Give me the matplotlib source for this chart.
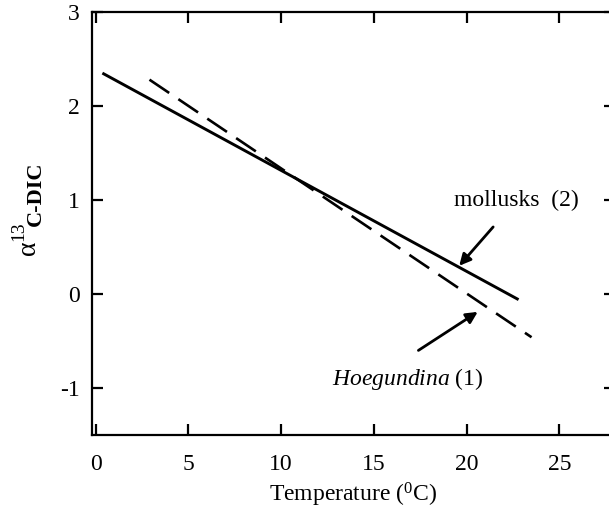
import matplotlib
matplotlib.use("Agg")
import matplotlib.pyplot as plt

plt.rcParams['font.family'] = ['Liberation Serif', 'DejaVu Serif']
plt.rcParams['mathtext.fontset'] = 'custom'
plt.rcParams['mathtext.rm'] = 'Liberation Serif'
plt.rcParams['mathtext.it'] = 'Liberation Serif:italic'
plt.rcParams['mathtext.bf'] = 'Liberation Serif:bold'

# Temperature endpoints (deg C) and fractionation values for each relation
mollusks_t = [0.36, 22.8]
mollusks_a = [2.35, -0.06]
hoeg_t = [2.9, 23.5]
hoeg_a = [2.28, -0.46]

x_ticks = [0, 5, 10, 15, 20, 25]
y_ticks = [-1, 0, 1, 2, 3]

W, H = 609, 512
fig = plt.figure(figsize=(W / 100, H / 100), dpi=100)
ax = fig.add_axes([92 / W, 1 - 435 / H, (615 - 92) / W, (435 - 12) / H])

ax.plot(mollusks_t, mollusks_a, color='black', lw=2.1, solid_capstyle='butt')
ax.plot(hoeg_t, hoeg_a, color='black', lw=1.9, dashes=(9, 4.2),
        dash_capstyle='butt')

ax.set_xlim(-0.2, 28.0)
ax.set_ylim(-1.5, 3.0)
ax.set_xticks(x_ticks)
ax.set_yticks(y_ticks)
ax.set_yticklabels([str(v) for v in y_ticks])
ax.tick_params(direction='in', length=8, width=1.6, labelsize=17,
               top=True, right=True)
ax.tick_params(axis='x', pad=14)
ax.tick_params(axis='y', pad=9)
for s in ax.spines.values():
    s.set_linewidth(1.6)

fig.text(353 / W, 1 - 495 / H, r'Temperature ($^0$C)', fontsize=17,
         ha='center', va='center')

# y-axis label: alpha, raised "13", then a lowered bold "C-DIC"
fig.text(29 / W, 1 - 255 / H, '\u03b1', fontsize=20, rotation=90,
         ha='center', va='bottom')
fig.text(19 / W, 1 - 241 / H, '13', fontsize=14, rotation=90,
         ha='center', va='bottom')
fig.text(36 / W, 1 - 161 / H, 'C-DIC', fontsize=16, fontweight='bold',
         rotation=90, ha='center', va='top')

ax.annotate('mollusks  (2)', xy=(19.6, 0.30), xytext=(22.7, 1.0),
            ha='center', va='center', fontsize=17,
            arrowprops=dict(arrowstyle='-|>', color='black', lw=2.0,
                            mutation_scale=17, shrinkA=13, shrinkB=0))
ax.annotate('', xy=(20.6, -0.19), xytext=(17.4, -0.60),
            arrowprops=dict(arrowstyle='-|>', color='black', lw=2.0,
                            mutation_scale=17, shrinkA=0, shrinkB=0))
ax.text(16.8, -0.90, r'$\it{Hoegundina}$ (1)', ha='center', va='center',
        fontsize=17)

fig.savefig('out.png', dpi=100)
